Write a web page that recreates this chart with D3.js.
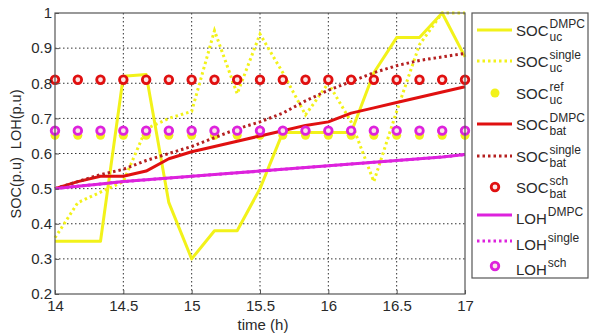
<!DOCTYPE html>
<html>
<head>
<meta charset="utf-8">
<script src="https://cdn.jsdelivr.net/npm/d3@7"></script>
<style>
  body { margin: 0; background: #fff; }
  svg { font-family: "Liberation Sans", Arial, sans-serif; }
</style>
</head>
<body>
<div id="chart"></div>
<script>
const w = 589;
const h = 335;

const times = [14, 14.167, 14.333, 14.5, 14.667, 14.833, 15, 15.167, 15.333, 15.5, 15.667, 15.833, 16, 16.167, 16.333, 16.5, 16.667, 16.833, 17];
const socUcDmpc = [0.35, 0.35, 0.35, 0.82, 0.825, 0.46, 0.30, 0.38, 0.38, 0.50, 0.66, 0.66, 0.66, 0.66, 0.83, 0.93, 0.93, 1.00, 0.875];
const socUcSingle = [0.36, 0.46, 0.49, 0.52, 0.67, 0.70, 0.72, 0.95, 0.77, 0.94, 0.83, 0.71, 0.80, 0.69, 0.52, 0.72, 0.91, 1.00, 1.00];
const socUcRef = [0.652, 0.652, 0.652, 0.652, 0.652, 0.652, 0.652, 0.652, 0.652, 0.652, 0.652, 0.652, 0.652, 0.652, 0.652, 0.652, 0.652, 0.652, 0.652];
const socBatDmpc = [0.50, 0.52, 0.535, 0.535, 0.55, 0.585, 0.605, 0.62, 0.635, 0.65, 0.665, 0.68, 0.69, 0.715, 0.73, 0.745, 0.76, 0.775, 0.79];
const socBatSingle = [0.50, 0.52, 0.54, 0.555, 0.58, 0.60, 0.62, 0.645, 0.67, 0.69, 0.715, 0.75, 0.78, 0.805, 0.83, 0.85, 0.865, 0.875, 0.885];
const socBatSch = [0.81, 0.81, 0.81, 0.81, 0.81, 0.81, 0.81, 0.81, 0.81, 0.81, 0.81, 0.81, 0.81, 0.81, 0.81, 0.81, 0.81, 0.81, 0.81];
const lohDmpc = [0.50, 0.507, 0.513, 0.52, 0.525, 0.53, 0.535, 0.54, 0.545, 0.55, 0.555, 0.56, 0.565, 0.57, 0.575, 0.58, 0.585, 0.59, 0.597];
const lohSingle = [0.50, 0.507, 0.513, 0.52, 0.525, 0.53, 0.535, 0.54, 0.545, 0.55, 0.555, 0.56, 0.565, 0.57, 0.575, 0.58, 0.585, 0.59, 0.597];
const lohSch = [0.665, 0.665, 0.665, 0.665, 0.665, 0.665, 0.665, 0.665, 0.665, 0.665, 0.665, 0.665, 0.665, 0.665, 0.665, 0.665, 0.665, 0.665, 0.665];

const xTicks = [14, 14.5, 15, 15.5, 16, 16.5, 17];
const yTicks = [0.2, 0.3, 0.4, 0.5, 0.6, 0.7, 0.8, 0.9, 1];

const YEL = "#f2f21a", RED = "#e01010", RED_D = "#b52020", MAG = "#dd22dd";

// series in plotting order (same as legend)
const series = [
  { vals: socUcDmpc, kind: "line", color: YEL, main: "SOC", sup: "DMPC", sub: "uc" },
  { vals: socUcSingle, kind: "dot", color: YEL, main: "SOC", sup: "single", sub: "uc" },
  { vals: socUcRef, kind: "fill", color: YEL, main: "SOC", sup: "ref", sub: "uc" },
  { vals: socBatDmpc, kind: "line", color: RED, main: "SOC", sup: "DMPC", sub: "bat" },
  { vals: socBatSingle, kind: "dot", color: RED_D, main: "SOC", sup: "single", sub: "bat" },
  { vals: socBatSch, kind: "ring", color: RED, main: "SOC", sup: "sch", sub: "bat" },
  { vals: lohDmpc, kind: "line", color: MAG, main: "LOH", sup: "DMPC", sub: "" },
  { vals: lohSingle, kind: "dot", color: MAG, main: "LOH", sup: "single", sub: "" },
  { vals: lohSch, kind: "ring", color: MAG, main: "LOH", sup: "sch", sub: "" }
];
const legendY = [30, 61, 93, 124, 156, 187, 215, 241, 266];

const pLeft = 55, pRight = 465, pTop = 13, pBottom = 294;

const xScale = d3.scaleLinear().domain([14, 17]).range([pLeft, pRight]);
const yScale = d3.scaleLinear().domain([0.2, 1]).range([pBottom, pTop]);

const svg = d3.select("#chart").append("svg").attr("width", w).attr("height", h);

// grid
svg.append("g").selectAll("line").data(xTicks.slice(1, -1)).enter().append("line")
  .attr("x1", d => xScale(d)).attr("x2", d => xScale(d))
  .attr("y1", pTop).attr("y2", pBottom)
  .attr("stroke", "#333").attr("stroke-width", 1).attr("stroke-dasharray", "1.5,2.5");
svg.append("g").selectAll("line").data(yTicks.slice(1, -1)).enter().append("line")
  .attr("y1", d => yScale(d)).attr("y2", d => yScale(d))
  .attr("x1", pLeft).attr("x2", pRight)
  .attr("stroke", "#333").attr("stroke-width", 1).attr("stroke-dasharray", "1.5,2.5");

svg.append("clipPath").attr("id", "clip").append("rect")
  .attr("x", pLeft - 6).attr("y", pTop - 6).attr("width", pRight - pLeft + 12).attr("height", pBottom - pTop + 12);

const plot = svg.append("g").attr("clip-path", "url(#clip)");
const line = d3.line().x((d, i) => xScale(times[i])).y(d => yScale(d));

series.forEach(s => {
  if (s.kind === "line") {
    plot.append("path").datum(s.vals).attr("d", line)
      .attr("fill", "none").attr("stroke", s.color).attr("stroke-width", 3).attr("stroke-linejoin", "round");
  } else if (s.kind === "dot") {
    plot.append("path").datum(s.vals).attr("d", line)
      .attr("fill", "none").attr("stroke", s.color).attr("stroke-width", 3)
      .attr("stroke-dasharray", "2.5,3");
  } else if (s.kind === "fill") {
    plot.selectAll(null).data(s.vals).enter().append("circle")
      .attr("cx", (d, i) => xScale(times[i])).attr("cy", d => yScale(d))
      .attr("r", 4.5).attr("fill", s.color);
  } else {
    plot.selectAll(null).data(s.vals).enter().append("circle")
      .attr("cx", (d, i) => xScale(times[i])).attr("cy", d => yScale(d))
      .attr("r", 3.8).attr("fill", "#fbe6e6").attr("stroke", s.color).attr("stroke-width", 2.8);
  }
});

// axes box
svg.append("rect").attr("x", pLeft).attr("y", pTop).attr("width", pRight - pLeft).attr("height", pBottom - pTop)
  .attr("fill", "none").attr("stroke", "#555").attr("stroke-width", 1.2);

const xAxis = d3.axisBottom(xScale).tickValues(xTicks).tickSize(-4).tickFormat(d3.format("~g"));
const yAxis = d3.axisLeft(yScale).tickValues(yTicks).tickSize(-4).tickFormat(d3.format("~g"));

const gx = svg.append("g").attr("transform", "translate(0," + pBottom + ")").call(xAxis);
const gy = svg.append("g").attr("transform", "translate(" + pLeft + ",0)").call(yAxis);
[gx, gy].forEach(g => {
  g.select(".domain").remove();
  g.selectAll(".tick line").attr("stroke", "#555");
  g.selectAll("text").attr("fill", "#2a2a2a").style("font-size", "15px");
});
gx.selectAll("text").attr("dy", "0.95em");
gy.selectAll("text").attr("x", -3);

svg.append("text").attr("x", 263).attr("y", 330).attr("text-anchor", "middle")
  .attr("fill", "#2a2a2a").style("font-size", "15px").text("time (h)");

svg.append("text").attr("transform", "translate(21,154) rotate(-90)").attr("text-anchor", "middle")
  .attr("fill", "#2a2a2a").style("font-size", "14.5px").attr("xml:space", "preserve")
  .text("SOC(p.u)  LOH(p.u)");

// legend
const lg = svg.append("g");
lg.append("rect").attr("x", 472).attr("y", 13).attr("width", 116).attr("height", 265)
  .attr("fill", "#fff").attr("stroke", "#555").attr("stroke-width", 1.2);

series.forEach((s, i) => {
  const y = legendY[i];
  if (s.kind === "line" || s.kind === "dot") {
    const l = lg.append("line").attr("x1", 477).attr("x2", 512).attr("y1", y).attr("y2", y)
      .attr("stroke", s.color).attr("stroke-width", 3);
    if (s.kind === "dot") l.attr("stroke-dasharray", "2.5,3");
  } else if (s.kind === "fill") {
    lg.append("circle").attr("cx", 495).attr("cy", y).attr("r", 4.5).attr("fill", s.color);
  } else {
    lg.append("circle").attr("cx", 495).attr("cy", y).attr("r", 3.8)
      .attr("fill", "#fbe6e6").attr("stroke", s.color).attr("stroke-width", 2.8);
  }
  const base = s.sub ? y + 6 : y + 9;
  const t = lg.append("text").attr("x", 516).attr("y", base).attr("fill", "#2a2a2a")
    .style("font-size", "15px").text(s.main);
  const tw = t.node().getComputedTextLength();
  lg.append("text").attr("x", 516 + tw + 1).attr("y", base - 8).attr("fill", "#2a2a2a")
    .style("font-size", "12px").text(s.sup);
  if (s.sub) {
    lg.append("text").attr("x", 516 + tw + 1).attr("y", base + 5).attr("fill", "#2a2a2a")
      .style("font-size", "12px").text(s.sub);
  }
});
</script>
</body>
</html>
